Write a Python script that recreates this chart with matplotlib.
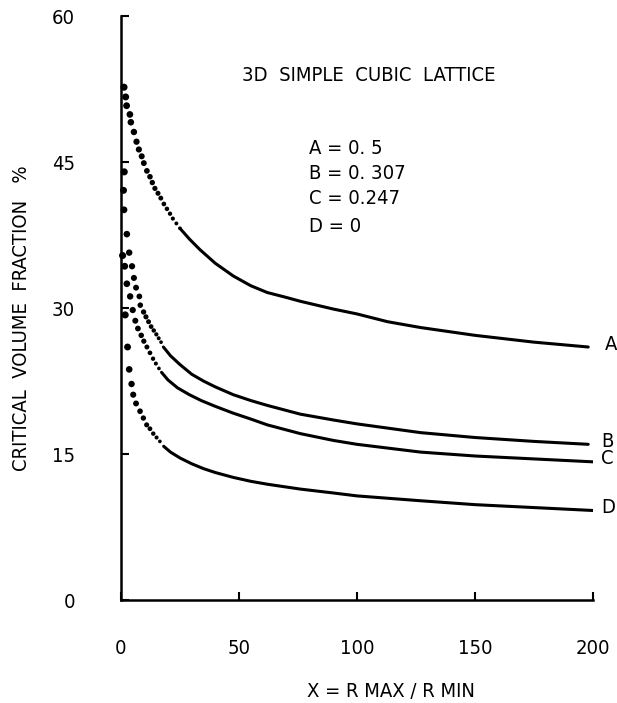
import numpy as np
import matplotlib
matplotlib.use("Agg")
import matplotlib.pyplot as plt

plt.rcParams['font.family'] = ['DejaVu Sans']
plt.rcParams['font.stretch'] = 'condensed'

# dotted (computed) start of each curve
a_dot_x = [1.3, 2.0, 2.4, 3.8, 4.2, 5.5, 6.6, 7.6, 8.8, 9.7, 11.0, 12.3, 13.3, 14.4,
           15.7, 16.9, 18.2, 19.5, 20.8, 22.0, 23.5, 25.0]
a_dot_y = [52.7, 51.7, 50.8, 49.9, 49.1, 48.1, 47.1, 46.3, 45.6, 44.9, 44.1, 43.5, 42.9, 42.3,
           41.8, 41.3, 40.7, 40.2, 39.7, 39.2, 38.7, 38.2]
b_dot_x = [1.4, 1.1, 1.3, 2.5, 3.5, 4.7, 5.5, 6.4, 7.8, 8.2, 9.6, 10.6, 11.7, 12.8, 13.9, 15.0, 16.0, 17.0]
b_dot_y = [44.0, 42.1, 40.1, 37.6, 35.7, 34.3, 33.1, 32.1, 31.2, 30.3, 29.6, 29.1, 28.6, 28.1, 27.7, 27.3, 26.9, 26.5]
c_dot_x = [0.7, 1.6, 2.5, 3.9, 5.0, 6.1, 7.2, 8.6, 9.7, 11.0, 12.3, 13.6, 14.8, 16.1]
c_dot_y = [35.4, 34.3, 32.5, 31.2, 29.8, 28.7, 27.9, 27.2, 26.6, 26.0, 25.4, 24.8, 24.3, 23.8]
d_dot_x = [1.8, 2.8, 3.5, 4.5, 5.2, 6.4, 8.1, 9.5, 10.9, 12.3, 13.7, 15.1, 16.5]
d_dot_y = [29.3, 26.0, 23.7, 22.2, 21.1, 20.2, 19.4, 18.7, 18.0, 17.6, 17.1, 16.7, 16.3]

# solid parts
a_x = [25, 29, 33.5, 40, 47.6, 55, 62, 70, 76, 90, 100, 113, 127, 150, 175, 198]
a_y = [38.2, 37.1, 36.0, 34.6, 33.3, 32.3, 31.6, 31.1, 30.7, 29.9, 29.4, 28.6, 28.0, 27.2, 26.5, 26.0]
b_x = [18, 21, 25, 30, 35, 40, 47.6, 55, 62, 76, 90, 100, 127, 150, 175, 198]
b_y = [26.0, 25.1, 24.2, 23.2, 22.5, 21.9, 21.1, 20.5, 20.0, 19.1, 18.5, 18.1, 17.2, 16.7, 16.3, 16.0]
c_x = [17.2, 20, 24, 29, 34, 40, 47.6, 55, 62, 76, 90, 100, 127, 150, 175, 200]
c_y = [23.4, 22.6, 21.8, 21.1, 20.5, 19.9, 19.2, 18.6, 18.0, 17.1, 16.4, 16.0, 15.2, 14.8, 14.5, 14.2]
d_x = [18.1, 21, 25, 30, 35, 40, 47.6, 55, 62, 76, 90, 100, 127, 150, 175, 200]
d_y = [15.8, 15.2, 14.6, 14.0, 13.5, 13.1, 12.6, 12.2, 11.9, 11.4, 11.0, 10.7, 10.2, 9.8, 9.5, 9.2]

curve_names = ["A", "B", "C", "D"]
param_text = ["A = 0. 5", "B = 0. 307", "C = 0.247", "D = 0"]
x_ticks = [0, 50, 100, 150, 200]
y_ticks = [0, 15, 30, 45, 60]

fig = plt.figure(figsize=(6.17, 7.03), dpi=100)
ax = fig.add_axes([0.196, 0.1465, 0.765, 0.8305])

dots = [(a_dot_x, a_dot_y), (b_dot_x, b_dot_y), (c_dot_x, c_dot_y), (d_dot_x, d_dot_y)]
solids = [(a_x, a_y), (b_x, b_y), (c_x, c_y), (d_x, d_y)]

for (dx, dy), (sx, sy), name in zip(dots, solids, curve_names):
    sizes = np.linspace(26, 7, len(dx))
    ax.scatter(dx, dy, s=sizes, color="black", linewidths=0, zorder=3, clip_on=False)
    ax.plot(sx, sy, color="black", lw=2.2, solid_capstyle="round")
    lx = 205 if name == "A" else 203.5
    ax.text(lx, sy[-1] + 0.3, name, fontsize=14.5, va="center", ha="left")

ax.set_xlim(0, 200)
ax.set_ylim(0, 60)
for side in ["top", "right"]:
    ax.spines[side].set_visible(False)
for side in ["left", "bottom"]:
    ax.spines[side].set_linewidth(1.8)
ax.set_xticks(x_ticks)
ax.set_yticks(y_ticks)
ax.tick_params(direction="in", length=6, width=1.5, labelsize=14.5)
ax.tick_params(axis="x", pad=28)
ax.tick_params(axis="y", pad=33)

ax.text(0.525, 0.899, "3D  SIMPLE  CUBIC  LATTICE", transform=ax.transAxes,
        fontsize=14.5, ha="center", va="center")
for t, yf in zip(param_text, [0.774, 0.731, 0.688, 0.639]):
    ax.text(0.398, yf, t, transform=ax.transAxes, fontsize=14.5, ha="left", va="center")

fig.text(0.035, 0.548, "CRITICAL  VOLUME  FRACTION   %", rotation=90, fontsize=14.5,
         ha="center", va="center")
fig.text(0.634, 0.016, "X = R MAX / R MIN", fontsize=14.5, ha="center", va="center")

fig.savefig("out.png", dpi=100)
